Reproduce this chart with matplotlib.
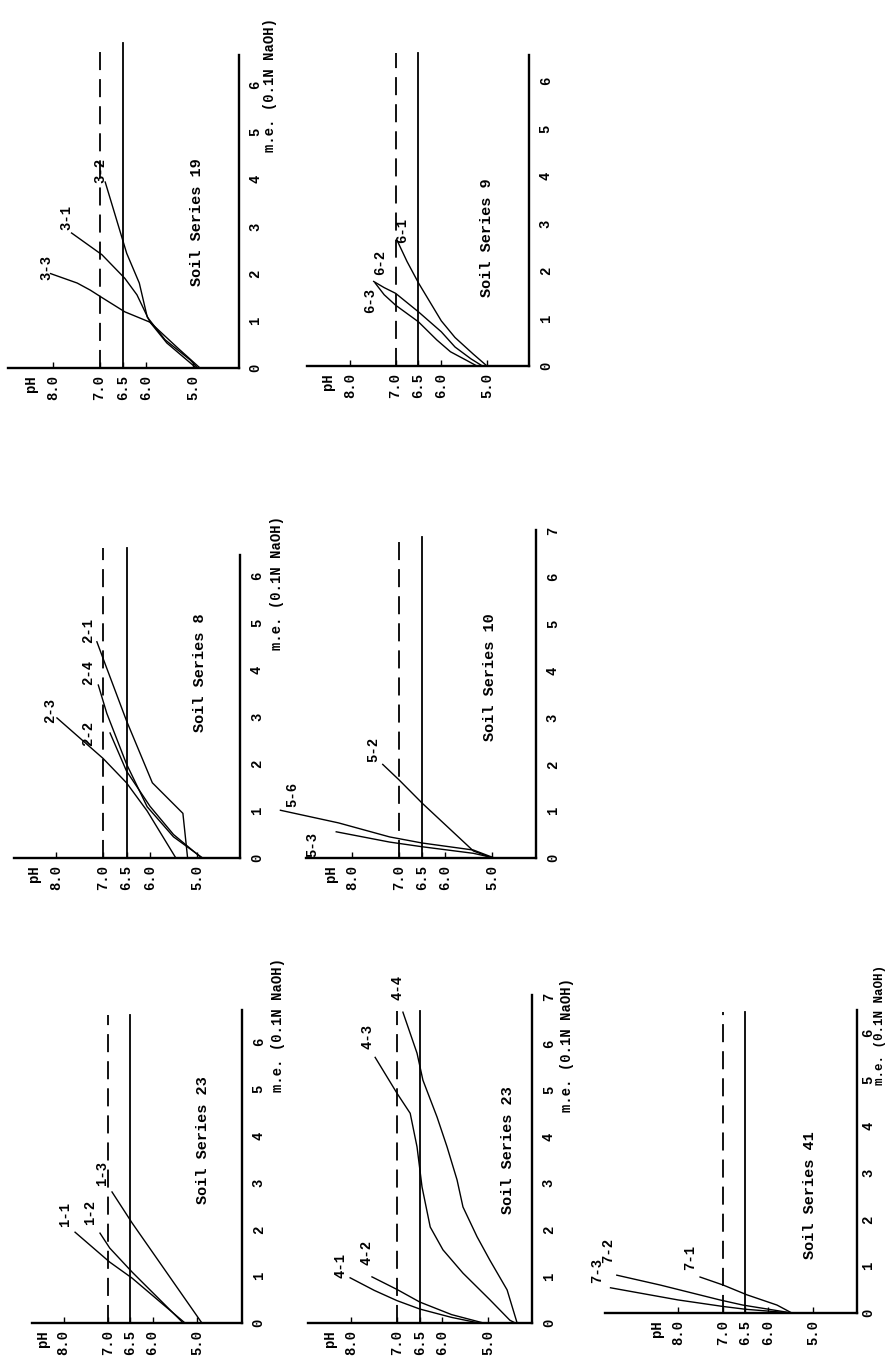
import matplotlib
matplotlib.use("Agg")
import matplotlib.pyplot as plt

plt.rcParams['font.family'] = ['Liberation Mono', 'DejaVu Sans Mono']
plt.rcParams['font.weight'] = 'bold'

W, H = 887, 1364

# --- data: titration curves, (pH values, m.e. of 0.1N NaOH) ---
s19_curves = {
    "3-3": ([4.85, 5.3, 5.92, 6.46, 6.93, 7.2, 7.48, 8.05], [0.0, 0.4, 0.97, 1.19, 1.48, 1.65, 1.8, 2.0]),
    "3-1": ([4.93, 5.56, 5.92, 6.2, 6.46, 6.95, 7.6], [0.0, 0.53, 0.97, 1.55, 1.9, 2.4, 2.86]),
    "3-2": ([4.9, 5.06, 5.6, 5.98, 6.15, 6.42, 6.88], [0.0, 0.17, 0.6, 1.08, 1.8, 2.43, 3.94]),
}
s9_curves = {
    "6-3": ([5.22, 5.45, 5.8, 6.1, 6.5, 7.0, 7.25, 7.45], [0.0, 0.12, 0.3, 0.55, 0.93, 1.28, 1.5, 1.75]),
    "6-2": ([5.1, 5.35, 5.7, 6.0, 6.5, 7.0, 7.25, 7.48], [0.0, 0.15, 0.4, 0.72, 1.14, 1.53, 1.65, 1.78]),
    "6-1": ([5.0, 5.3, 5.7, 6.0, 6.5, 6.75, 6.97], [0.0, 0.25, 0.6, 0.95, 1.75, 2.2, 2.65]),
}
s8_curves = {
    "2-3": ([5.45, 6.06, 6.5, 7.0, 7.98], [0.0, 1.0, 1.6, 2.12, 2.98]),
    "2-2": ([4.9, 5.5, 6.0, 6.5, 6.85], [0.0, 0.5, 1.1, 1.85, 2.66]),
    "2-4": ([4.88, 5.5, 6.06, 6.5, 6.92, 7.1], [0.0, 0.45, 1.09, 2.0, 3.08, 3.68]),
    "2-1": ([5.2, 5.3, 5.95, 6.5, 7.0, 7.13], [0.0, 0.95, 1.6, 2.92, 4.25, 4.6]),
}
s10_curves = {
    "5-6": ([4.95, 5.4, 6.5, 7.2, 8.3, 9.55], [0.0, 0.17, 0.32, 0.45, 0.75, 1.02]),
    "5-3": ([4.95, 5.4, 6.5, 7.2, 8.35], [0.0, 0.1, 0.24, 0.34, 0.56]),
    "5-2": ([5.0, 5.4, 6.5, 7.0, 7.35], [0.0, 0.15, 1.17, 1.67, 2.0]),
}
s23a_curves = {
    "1-1": ([5.27, 6.46, 6.96, 7.74], [0.0, 0.96, 1.3, 1.94]),
    "1-2": ([5.31, 6.46, 6.96, 7.18], [0.0, 1.09, 1.6, 1.92]),
    "1-3": ([4.89, 6.46, 6.91], [0.0, 2.14, 2.8]),
}
s23b_curves = {
    "4-1": ([5.2, 5.8, 6.5, 7.0, 7.5, 8.03], [0.0, 0.12, 0.3, 0.48, 0.7, 0.97]),
    "4-2": ([5.1, 5.8, 6.5, 7.0, 7.55], [0.0, 0.18, 0.45, 0.72, 0.99]),
    "4-3": ([4.4, 4.52, 4.96, 5.55, 5.99, 6.27, 6.45, 6.56, 6.71, 7.0, 7.48],
            [0.0, 0.06, 0.5, 1.07, 1.57, 2.06, 2.92, 3.78, 4.5, 4.93, 5.7]),
    "4-4": ([4.36, 4.58, 4.96, 5.24, 5.55, 5.68, 5.9, 6.12, 6.43, 6.56, 6.87],
            [0.0, 0.71, 1.35, 1.85, 2.49, 3.07, 3.78, 4.42, 5.21, 5.79, 6.67]),
}
s41_curves = {
    "7-3": ([5.47, 6.5, 7.0, 8.0, 9.5], [0.0, 0.08, 0.14, 0.28, 0.54]),
    "7-2": ([5.47, 6.56, 7.07, 8.4, 9.36], [0.0, 0.17, 0.28, 0.6, 0.81]),
    "7-1": ([5.47, 5.8, 6.47, 7.0, 7.51], [0.0, 0.17, 0.39, 0.6, 0.77]),
}

ph_ticks = [8.0, 7.0, 6.5, 6.0, 5.0]
ph_ticklabels = ["8.0", "7.0", "6.5", "6.0", "5.0"]
me_label = "m.e. (0.1N NaOH)"

# --- layout (pixel geometry of each rotated panel) and label placement ---
panels = [
    dict(title="Soil Series 19", curves=s19_curves, x5=193, sx=46.7, y0=368, sy=47.2,
         ph_hi=8.97, ph_lo=4.02, me_top=6.63, ref_top=6.88, nt=6, ypad=7,
         tpos=(4.91, 3.1), mpos=(3.35, 6.0), mfs=10,
         lpos={"3-3": (8.13, 2.14), "3-1": (7.7, 3.2), "3-2": (6.99, 4.19)}),
    dict(title="Soil Series 9", curves=s9_curves, x5=487, sx=45.7, y0=366, sy=47.5,
         ph_hi=8.94, ph_lo=4.08, me_top=6.55, ref_top=6.6, nt=6, ypad=7,
         tpos=(5.0, 2.7), mpos=None, mfs=10,
         lpos={"6-3": (7.56, 1.39), "6-2": (7.34, 2.17), "6-1": (6.86, 2.86)}),
    dict(title="Soil Series 8", curves=s8_curves, x5=197, sx=47.0, y0=858, sy=47.0,
         ph_hi=8.9, ph_lo=4.08, me_top=6.45, ref_top=6.6, nt=6, ypad=7,
         tpos=(4.94, 3.94), mpos=(3.3, 5.85), mfs=10,
         lpos={"2-3": (8.13, 3.15), "2-2": (7.32, 2.66), "2-4": (7.32, 3.94), "2-1": (7.32, 4.85)}),
    dict(title="Soil Series 10", curves=s10_curves, x5=492, sx=46.5, y0=858, sy=46.8,
         ph_hi=9.0, ph_lo=4.05, me_top=7.0, ref_top=6.86, nt=7, ypad=7,
         tpos=(5.04, 3.87), mpos=None, mfs=10,
         lpos={"5-6": (9.3, 1.35), "5-3": (8.87, 0.28), "5-2": (7.56, 2.31)}),
    dict(title="Soil Series 23", curves=s23a_curves, x5=197, sx=44.5, y0=1323, sy=46.8,
         ph_hi=8.7, ph_lo=3.99, me_top=6.69, ref_top=6.58, nt=6, ypad=7,
         tpos=(4.87, 3.91), mpos=(3.18, 6.37), mfs=10,
         lpos={"1-1": (7.97, 2.31), "1-2": (7.4, 2.37), "1-3": (7.13, 3.2)}),
    dict(title="Soil Series 23", curves=s23b_curves, x5=488, sx=45.5, y0=1323, sy=46.6,
         ph_hi=8.96, ph_lo=4.03, me_top=7.04, ref_top=6.7, nt=7, ypad=7,
         tpos=(4.56, 3.71), mpos=(3.26, 5.97), mfs=10,
         lpos={"4-1": (8.25, 1.24), "4-2": (7.66, 1.52), "4-3": (7.64, 6.14), "4-4": (6.98, 7.21)}),
    dict(title="Soil Series 41", curves=s41_curves, x5=813, sx=45.0, y0=1313, sy=46.7,
         ph_hi=9.62, ph_lo=4.02, me_top=6.49, ref_top=6.45, nt=6, ypad=3,
         tpos=(5.07, 2.53), mpos=(3.52, 6.17), mfs=9,
         lpos={"7-3": (9.8, 0.92), "7-2": (9.56, 1.35), "7-1": (7.73, 1.18)}),
]

fig = plt.figure(figsize=(W / 100, H / 100), dpi=100)
fig.patch.set_facecolor("white")

for p in panels:
    x_left = p["x5"] - (p["ph_hi"] - 5) * p["sx"]
    x_right = p["x5"] - (p["ph_lo"] - 5) * p["sx"]
    y_top = p["y0"] - p["me_top"] * p["sy"]
    ax = fig.add_axes([x_left / W, 1 - p["y0"] / H, (x_right - x_left) / W, (p["y0"] - y_top) / H])
    ax.set_xlim(p["ph_hi"], p["ph_lo"])
    ax.set_ylim(0, p["me_top"])
    ax.patch.set_alpha(0)

    for s in ["top", "left"]:
        ax.spines[s].set_visible(False)
    for s in ["bottom", "right"]:
        ax.spines[s].set_linewidth(1.7)

    # pH axis (bottom) and m.e. axis (right), text turned like the page
    ax.set_xticks(ph_ticks)
    ax.set_xticklabels(ph_ticklabels)
    ax.tick_params(axis="x", direction="in", length=4, width=1, pad=5, labelsize=10, labelrotation=90)
    ax.yaxis.tick_right()
    ax.set_yticks(range(p["nt"] + 1))
    ax.tick_params(axis="y", direction="in", length=0, pad=p["ypad"], labelsize=10, labelrotation=90)
    for lab in ax.get_yticklabels():
        lab.set_va("center")
    ax.annotate("pH", xy=(8.47, 0), xycoords=ax.get_xaxis_transform(),
                xytext=(0, -5), textcoords="offset points", rotation=90,
                ha="center", va="top", fontsize=10)

    # reference levels pH 7.0 (dashed) and 6.5 (solid)
    ax.plot([7.0, 7.0], [0, p["ref_top"]], color="black", lw=1.3, ls=(0, (10, 5)), clip_on=False)
    ax.plot([6.5, 6.5], [0, p["ref_top"]], color="black", lw=1.3, clip_on=False)

    for name, (ph, me) in p["curves"].items():
        ax.plot(ph, me, color="black", lw=1.0, clip_on=False)
        lx, ly = p["lpos"][name]
        ax.text(lx, ly, name, rotation=90, ha="center", va="center", fontsize=10)

    ax.text(p["tpos"][0], p["tpos"][1], p["title"], rotation=90, ha="center", va="center", fontsize=11)
    if p["mpos"] is not None:
        ax.text(p["mpos"][0], p["mpos"][1], me_label, rotation=90, ha="center", va="center",
                fontsize=p["mfs"], clip_on=False)

fig.savefig("out.png", dpi=100, facecolor="white")
